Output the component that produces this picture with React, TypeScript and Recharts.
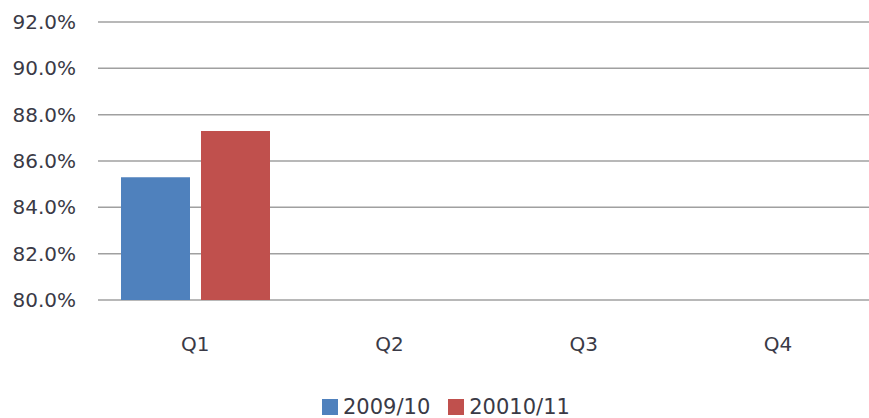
import { Bar, BarChart, CartesianGrid, Legend, XAxis, YAxis } from "recharts";

const quarters = ["Q1", "Q2", "Q3", "Q4"];
const season0910 = [85.3, null, null, null];
const season1011 = [87.3, null, null, null];
const yTicks = [80, 82, 84, 86, 88, 90, 92];

const BLUE = "#4f81bd";
const RED = "#c0504d";
const TEXT = "#3a3a46";
const FONT = "'DejaVu Sans', Verdana, sans-serif";
const ORDER = ["a", "b"];

const data = quarters.map((q, i) => ({
  q,
  a: season0910[i],
  b: season1011[i],
}));

function LegendBox(props: any) {
  const items = [...(props.payload || [])].sort(
    (x: any, y: any) => ORDER.indexOf(x.dataKey) - ORDER.indexOf(y.dataKey)
  );
  return (
    <div
      style={{
        display: "flex",
        alignItems: "center",
        boxSizing: "border-box",
        height: 24,
        paddingTop: 1,
        fontFamily: FONT,
        fontSize: 21,
        color: TEXT,
      }}
    >
      {items.map((it: any, i: number) => (
        <div
          key={it.value}
          style={{ display: "flex", alignItems: "center", marginRight: i === 0 ? 18 : 0 }}
        >
          <span
            style={{
              display: "inline-block",
              width: 16,
              height: 16,
              background: it.color,
              marginRight: 5,
            }}
          />
          <span style={{ lineHeight: "18px" }}>{it.value}</span>
        </div>
      ))}
    </div>
  );
}

export default function App() {
  return (
    <div
      style={{
        position: "fixed",
        left: 0,
        top: 0,
        width: 869,
        height: 418,
        overflow: "hidden",
        background: "#fff",
      }}
    >
      <BarChart
        width={880}
        height={418}
        data={data}
        margin={{ top: 22, right: 5, left: 0, bottom: 0 }}
        barSize={69}
        barGap={11}
      >
        <CartesianGrid vertical={false} stroke="#a0a0a0" strokeWidth={1.5} />
        <XAxis
          dataKey="q"
          height={94}
          axisLine={false}
          tickLine={false}
          tickSize={0}
          tickMargin={37}
          tick={{ fill: TEXT, fontSize: 20, fontFamily: FONT }}
        />
        <YAxis
          width={98}
          domain={[80, 92]}
          ticks={yTicks}
          axisLine={false}
          tickLine={false}
          tickSize={0}
          tickMargin={22}
          tick={{ fill: TEXT, fontSize: 20, fontFamily: FONT }}
          tickFormatter={(v: number) => `${v.toFixed(1)}%`}
        />
        <Legend
          verticalAlign="bottom"
          content={<LegendBox />}
          wrapperStyle={{ left: 322, width: "auto" }}
        />
        <Bar dataKey="a" name="2009/10" fill={BLUE} isAnimationActive={false} />
        <Bar dataKey="b" name="20010/11" fill={RED} isAnimationActive={false} />
      </BarChart>
    </div>
  );
}
